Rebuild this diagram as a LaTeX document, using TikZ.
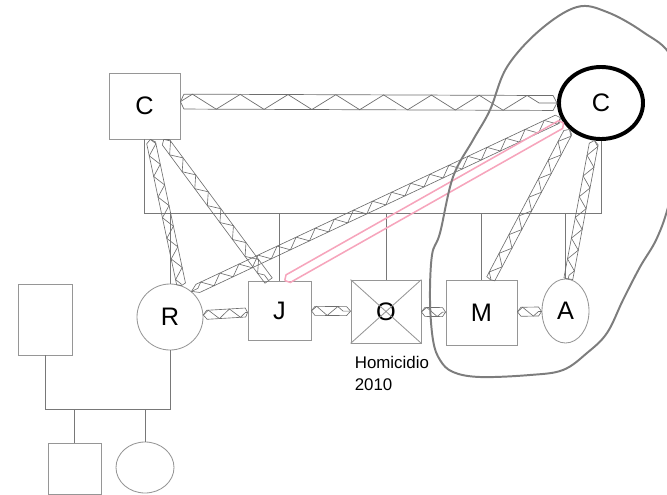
\documentclass[tikz,border=0pt]{standalone}
\usepackage{fontspec}
\setmainfont{Liberation Sans}
\usetikzlibrary{positioning,shapes.geometric,decorations.pathmorphing}
\definecolor{linegray}{RGB}{120,120,120}
\definecolor{boxgray}{RGB}{150,150,150}
\definecolor{ziggray}{RGB}{110,110,110}
\definecolor{lovepink}{RGB}{246,165,188}
\definecolor{curvegray}{RGB}{125,125,125}
\tikzstyle{person} = [draw=boxgray, line width=0.6pt, inner sep=0pt, align=center, font=\fontsize{18}{20}\selectfont]
\tikzstyle{male} = [person, rectangle]
\tikzstyle{female} = [person, ellipse]
\tikzstyle{tie} = [draw=linegray, line width=0.6pt]
\tikzstyle{note} = [inner sep=0pt, align=left, font=\fontsize{12}{15}\selectfont]
\tikzset{
  rail/.style={postaction={draw, decorate, decoration={zigzag, amplitude=0pt, segment length=10pt, raise=#1}}},
  rails/.style={rail=#1, rail=-#1},
  hostile/.style={ziggray, line width=0.45pt, rails=3.2pt, postaction={draw, decorate, decoration={zigzag, amplitude=3.2pt, segment length=15pt}}},
  hostile wide/.style={ziggray, line width=0.5pt, rails=5.3pt, postaction={draw, decorate, decoration={zigzag, amplitude=5.3pt, segment length=34pt}}},
  lovelink/.style={lovepink, line width=1.1pt, rails=3.1pt}
}

\begin{document}
\begin{tikzpicture}[x=0.025cm, y=-0.025cm]
\useasboundingbox (0,0) rectangle (667,495);

\node[male, minimum width=1.775cm, minimum height=1.65cm] (father) at (144.5,106) {C};
\node[female, draw=black, line width=2.8pt, minimum width=2.1cm, minimum height=1.8cm] (mother) at (601,103) {C};
\node[female, circle, minimum size=1.65cm] (r) at (170,317) {R};
\node[male, minimum width=1.575cm, minimum height=1.475cm] (j) at (279.5,310.5) {J};
\node[male, minimum width=1.75cm, minimum height=1.575cm] (o) at (386,311.5) {O};
\node[male, minimum width=1.775cm, minimum height=1.625cm] (m) at (481.5,312.5) {M};
\node[female, minimum width=1.175cm, minimum height=1.6cm] (a) at (565.5,311) {A};
\node[note, below right=0.325cm and 0.1cm of o.south west] (hom) {Homicidio\\2010};

\node[male, minimum width=1.35cm, minimum height=1.775cm] (partner) at (45,319.5) {};
\node[male, minimum width=1.325cm, minimum height=1.275cm] (son) at (74.5,468.5) {};
\node[female, minimum width=1.45cm, minimum height=1.275cm] (daughter) at (145,467.5) {};

\draw[draw=boxgray, line width=0.6pt] (o.north west) -- (o.south east) (o.north east) -- (o.south west);

\coordinate (bar) at (0,213);
\coordinate (sibbar) at (0,409);
\draw[tie] (father.south) -- (father.south |- bar) -- (mother.south |- bar) -- (mother.south);
\foreach \k in {r,j,o,m,a}
  \draw[tie] (\k.north) -- (\k.north |- bar);
\draw[tie] (partner.south) -- (partner.south |- sibbar) -- (r.south |- sibbar) -- (r.south);
\draw[tie] (son.north) -- (son.north |- sibbar);
\draw[tie] (daughter.north) -- (daughter.north |- sibbar);

\path[hostile wide] (father.7) -- (mother.west);
\path[hostile] (father.-80) -- (r.70);
\path[hostile] (father.-60) -- (j.110);
\path[hostile] (mother.200) -- (r.50);
\path[hostile] (mother.220) -- (m.75);
\path[hostile] (mother.-100) -- (a.85);
\path[hostile] (r) -- (j);
\path[hostile] (j) -- (o);
\path[hostile] (o) -- (m);
\path[hostile] (m) -- (a);
\path[lovelink] (mother.208) -- (j.80);

\draw[curvegray, line width=1.4pt] plot[smooth cycle, tension=0.6] coordinates {
  (490,110) (507,67) (540,30) (577,7) (607,12) (643,32) (672,58) (688,120)
  (670,200) (657,238) (640,267) (623,300) (607,333) (587,353) (563,370)
  (530,375) (480,377) (453,372) (440,360) (433,340) (430,300) (432,255)
  (440,233) (453,177) (473,140)};
\end{tikzpicture}
\end{document}
